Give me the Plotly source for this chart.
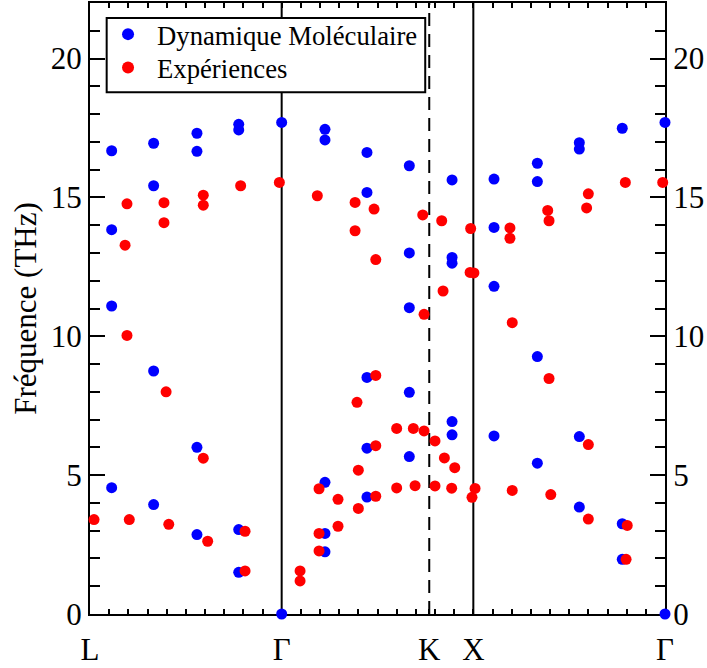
import plotly.graph_objects as go

# ---- data ----
point_labels = ["L", "Γ", "K", "X", "Γ"]
point_pos = [0.0, 1.0, 1.77, 2.0, 3.0]

md_q = [0.113, 0.332, 0.558, 0.776, 1.0, 1.226, 1.445, 1.666, 1.889, 2.108, 2.334, 2.553, 2.777, 3.0]
md_freqs = [
    [16.68, 13.84, 11.09, 4.55],
    [16.95, 15.42, 8.75, 3.94],
    [17.31, 16.66, 6.00, 2.86],
    [17.63, 17.43, 3.04, 1.50],
    [17.70, 0.0],
    [17.45, 17.07, 4.74, 2.90, 2.24],
    [16.62, 15.18, 8.52, 5.97, 4.21],
    [16.14, 13.00, 11.03, 7.98, 5.67],
    [15.63, 12.84, 12.63, 6.93, 6.45],
    [15.66, 13.92, 11.80, 6.41],
    [16.23, 15.57, 9.27, 5.43],
    [16.97, 16.74, 6.39, 3.85],
    [17.49, 3.25, 1.97],
    [17.70, 0.0],
]

exp_q = [
    0.021, 0.193, 0.193, 0.183, 0.205,
    0.386, 0.386, 0.397, 0.411,
    0.591, 0.591, 0.591, 0.614,
    0.786, 0.809, 0.809,
    0.988, 1.096, 1.096,
    1.186, 1.195, 1.195, 1.195,
    1.294, 1.294,
    1.383, 1.383, 1.393, 1.400, 1.400,
    1.482, 1.491, 1.491, 1.491, 1.491,
    1.600, 1.600, 1.687, 1.696,
    1.736, 1.743, 1.743,
    1.800, 1.800,
    1.835, 1.842, 1.849,
    1.887, 1.903,
    1.986, 1.983, 2.003, 2.009, 1.993,
    2.191, 2.191, 2.203, 2.203,
    2.388, 2.395, 2.395, 2.404,
    2.591, 2.600, 2.600, 2.600,
    2.793, 2.803, 2.797,
    2.988,
]
exp_f = [
    3.40, 14.77, 10.03, 13.28, 3.40,
    14.81, 14.09, 8.00, 3.23,
    15.08, 14.72, 5.61, 2.62,
    15.42, 2.98, 1.55,
    15.54, 1.55, 1.19,
    15.06, 4.51, 2.90, 2.27,
    4.13, 3.16,
    14.82, 13.80, 7.62, 5.18, 3.80,
    14.58, 12.76, 8.59, 6.06, 4.24,
    6.68, 4.54, 6.68, 4.62,
    14.37, 10.79, 6.59,
    6.23, 4.61,
    14.16, 11.63, 5.62,
    4.53, 5.27,
    13.88, 12.30, 12.28, 4.52, 4.20,
    13.90, 13.53, 10.49, 4.45,
    14.53, 14.16, 8.48, 4.30,
    14.62, 15.13, 6.10, 3.42,
    15.54, 3.19, 1.97,
    15.54,
]

md_x = [q for q, fs in zip(md_q, md_freqs) for _ in fs]
md_y = [f for fs in md_freqs for f in fs]

FONT = "Liberation Serif, Times New Roman, Times, DejaVu Serif, serif"
minor_x = [round(i * 0.1, 2) for i in range(0, 31)]

fig = go.Figure()
fig.add_trace(go.Scatter(
    x=md_x, y=md_y, mode="markers", name="Dynamique Moléculaire",
    marker=dict(color="#0000ff", size=11), cliponaxis=False, legend="legend",
))
fig.add_trace(go.Scatter(
    x=exp_q, y=exp_f, mode="markers", name="Expériences",
    marker=dict(color="#ff0000", size=11), cliponaxis=False, legend="legend2",
))
# register the right-hand axis
fig.add_trace(go.Scatter(x=[], y=[], yaxis="y2", showlegend=False, hoverinfo="skip"))

# vertical lines at high-symmetry points
fig.add_shape(type="line", xref="x", yref="paper", x0=1.0, x1=1.0, y0=0, y1=1,
              line=dict(color="black", width=2), layer="below")
fig.add_shape(type="line", xref="x", yref="paper", x0=1.77, x1=1.77, y0=0, y1=1,
              line=dict(color="black", width=2, dash="13px,8px"), layer="below")
fig.add_shape(type="line", xref="x", yref="paper", x0=2.0, x1=2.0, y0=0, y1=1,
              line=dict(color="black", width=2), layer="below")

# legend frame (drawn as a shape so its size can match exactly)
fig.add_shape(type="rect", xref="paper", yref="paper",
              x0=0.029, x1=0.583, y0=0.8540, y1=0.9755,
              line=dict(color="black", width=2), fillcolor="white", layer="above")

yaxis_common = dict(
    range=[0, 22], tickmode="array", tickvals=[0, 5, 10, 15, 20],
    ticks="inside", ticklen=15, tickwidth=2, tickcolor="black",
    minor=dict(tickmode="array", tickvals=[i for i in range(0, 23) if i % 5],
               ticks="inside", ticklen=10, tickwidth=2, tickcolor="black"),
    showline=True, linecolor="black", linewidth=2, showgrid=False, zeroline=False,
    tickfont=dict(family=FONT, size=31, color="black"),
    ticklabelstandoff=0, layer="below traces",
)

legend_common = dict(
    xanchor="left", yanchor="top", x=0.0157,
    bgcolor="rgba(0,0,0,0)", borderwidth=0,
    font=dict(family=FONT, size=26.7, color="black"),
    itemsizing="constant", itemwidth=48,
)

fig.update_layout(
    width=707, height=668,
    margin=dict(l=90, r=42, t=1, b=54),
    paper_bgcolor="white", plot_bgcolor="white",
    font=dict(family=FONT, color="black"),
    xaxis=dict(
        range=[0, 3], tickmode="array", tickvals=point_pos, ticktext=point_labels,
        ticks="inside", ticklen=5, tickwidth=2, tickcolor="black",
        minor=dict(tickmode="array", tickvals=minor_x, ticks="inside", ticklen=5,
                   tickwidth=2, tickcolor="black"),
        showline=True, linecolor="black", linewidth=2, mirror="allticks",
        showgrid=False, zeroline=False,
        tickfont=dict(family=FONT, size=31, color="black"),
        ticklabelstandoff=7, layer="below traces",
    ),
    yaxis=dict(
        **yaxis_common,
        title=dict(text="Fréquence (THz)", font=dict(family=FONT, size=31, color="black"),
                   standoff=5),
    ),
    yaxis2=dict(**yaxis_common, overlaying="y", side="right"),
    legend=dict(**legend_common, y=0.9881),
    legend2=dict(**legend_common, y=0.9334),
    showlegend=True,
)

fig.write_html("out.html")
